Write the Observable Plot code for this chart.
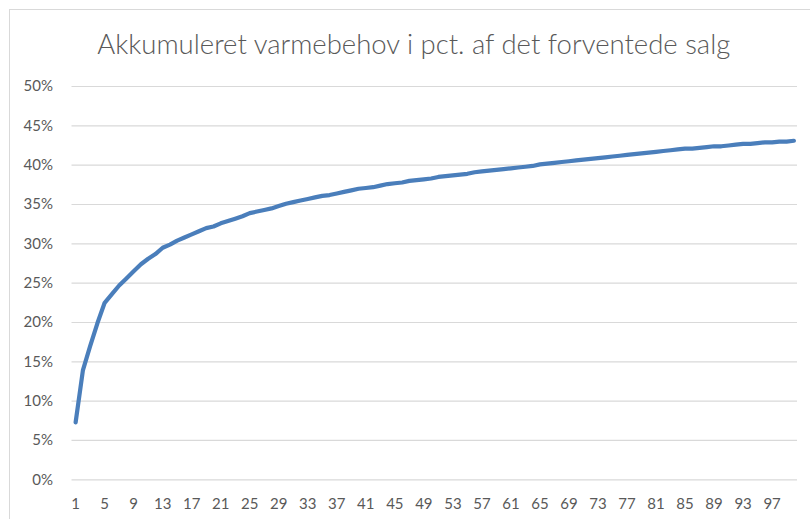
<!DOCTYPE html>
<html>
<head>
<meta charset="utf-8">
<script src="https://cdn.jsdelivr.net/npm/d3@7"></script>
<script src="https://cdn.jsdelivr.net/npm/@observablehq/plot@0.6"></script>
<style>
  html, body { margin: 0; padding: 0; background: #ffffff; }
  #wrap { position: relative; width: 810px; height: 519px; overflow: hidden; }
  #frame { position: absolute; left: 9px; top: 9px; width: 900px; height: 600px;
           border-left: 1px solid #d9d9d9; border-top: 1px solid #d9d9d9; pointer-events: none; }
  #chart { position: absolute; left: 0; top: 0; }
</style>
</head>
<body>
<div id="wrap"><div id="chart"></div><div id="frame"></div></div>
<script>
const title = "Akkumuleret varmebehov i pct. af det forventede salg";

// Accumulated heat demand (% of expected sales), categories 1..100
const values = [
  7.3, 13.9, 17.0, 19.9, 22.5, 23.6, 24.7, 25.6, 26.5, 27.4,
  28.1, 28.7, 29.5, 29.9, 30.4, 30.8, 31.2, 31.6, 32.0, 32.2,
  32.6, 32.9, 33.2, 33.5, 33.9, 34.1, 34.3, 34.5, 34.8, 35.1,
  35.3, 35.5, 35.7, 35.9, 36.1, 36.2, 36.4, 36.6, 36.8, 37.0,
  37.1, 37.2, 37.4, 37.6, 37.7, 37.8, 38.0, 38.1, 38.2, 38.3,
  38.5, 38.6, 38.7, 38.8, 38.9, 39.1, 39.2, 39.3, 39.4, 39.5,
  39.6, 39.7, 39.8, 39.9, 40.1, 40.2, 40.3, 40.4, 40.5, 40.6,
  40.7, 40.8, 40.9, 41.0, 41.1, 41.2, 41.3, 41.4, 41.5, 41.6,
  41.7, 41.8, 41.9, 42.0, 42.1, 42.1, 42.2, 42.3, 42.4, 42.4,
  42.5, 42.6, 42.7, 42.7, 42.8, 42.9, 42.9, 43.0, 43.0, 43.1
];
const categories = values.map((v, i) => i + 1);
const xTicks = [1, 5, 9, 13, 17, 21, 25, 29, 33, 37, 41, 45, 49, 53, 57, 61, 65, 69, 73, 77, 81, 85, 89, 93, 97];
const yTicks = [0, 5, 10, 15, 20, 25, 30, 35, 40, 45, 50];

const data = categories.map((c, i) => ({x: c, y: values[i]}));

const chart = Plot.plot({
  width: 810,
  height: 519,
  marginLeft: 71.5,
  marginRight: 13,
  marginTop: 86,
  marginBottom: 39.7,
  style: {fontFamily: "Lato, 'Open Sans', sans-serif", fontSize: "15px", color: "#595959", background: "transparent"},
  x: {type: "point", domain: categories, padding: 0.5, round: false},
  y: {domain: [0, 50]},
  marks: [
    Plot.gridY(yTicks, {stroke: "#d9d9d9", strokeOpacity: 1, strokeWidth: 1.2}),
    Plot.axisY(yTicks, {tickSize: 0, tickPadding: 19, tickFormat: d => d + "%", label: null, fill: "#595959"}),
    Plot.axisX(xTicks, {tickSize: 0, tickPadding: 19, label: null, fill: "#595959"}),
    Plot.lineY(data, {x: "x", y: "y", stroke: "#4a7ebb", strokeWidth: 4.2, strokeLinecap: "round", strokeLinejoin: "round"}),
    Plot.text([title], {frameAnchor: "top", lineAnchor: "bottom", dx: -21, dy: -33, fontSize: 28, fontWeight: 300, fill: "#595959", className: "title-text"})
  ]
});
document.getElementById("chart").appendChild(chart);
const t = chart.querySelector(".title-text text");
if (t) { t.setAttribute("textLength", 633); t.setAttribute("lengthAdjust", "spacingAndGlyphs"); }
</script>
</body>
</html>
